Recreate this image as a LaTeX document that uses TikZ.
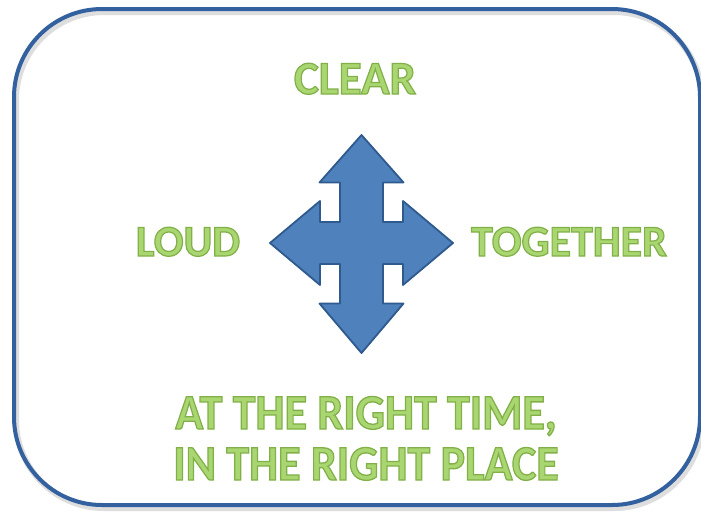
\documentclass[tikz,border=0pt]{standalone}
\usepackage{fontspec}
\usetikzlibrary{calc}
\setmainfont{Carlito}
\definecolor{frameblue}{HTML}{33609E}
\definecolor{arrowfill}{HTML}{4F81BD}
\definecolor{arrowline}{HTML}{2E5A8E}
\definecolor{wordgreen}{HTML}{A9D670}
\newcommand{\glowtext}[1]{\special{pdf:literal direct 2 Tr 1.2 w 0.50 0.69 0.28 RG}#1\special{pdf:literal direct 0 Tr}}
\begin{document}
\begin{tikzpicture}[x=1pt,y=-1pt,
  word/.style={text=wordgreen,font=\fontsize{44}{52}\selectfont\bfseries,inner sep=0pt,anchor=base},
  bigword/.style={text=wordgreen,font=\fontsize{46}{50}\selectfont\bfseries,inner sep=0pt,anchor=base,yscale=1.08}]
\useasboundingbox (0,0) rectangle (701,512);
\fill[white] (0,0) rectangle (701,512);
% shadow
\draw[line width=6pt,black!13,rounded corners=88pt] (16,12) rectangle (702,508);
\draw[line width=4pt,frameblue,rounded corners=88pt] (14,9) rectangle (700,505);
% arrow
\coordinate (c) at (361.5,243);
\filldraw[fill=arrowfill,draw=arrowline,line width=1.8pt,line join=round]
  ($(c)+(0,-108)$) -- ($(c)+(42,-60.5)$) -- ($(c)+(21.5,-60.5)$) -- ($(c)+(21.5,-21)$)
  -- ($(c)+(41.5,-21)$) -- ($(c)+(41.5,-42)$) -- ($(c)+(91.5,0)$) -- ($(c)+(41.5,42)$)
  -- ($(c)+(41.5,21)$) -- ($(c)+(21.5,21)$) -- ($(c)+(21.5,60.5)$) -- ($(c)+(42,60.5)$)
  -- ($(c)+(0,110)$) -- ($(c)+(-42,60.5)$) -- ($(c)+(-21.5,60.5)$) -- ($(c)+(-21.5,21)$)
  -- ($(c)+(-41.5,21)$) -- ($(c)+(-41.5,42)$) -- ($(c)+(-91.5,0)$) -- ($(c)+(-41.5,-42)$)
  -- ($(c)+(-41.5,-21)$) -- ($(c)+(-21.5,-21)$) -- ($(c)+(-21.5,-60.5)$) -- ($(c)+(-42,-60.5)$)
  -- cycle;
% words
\node[word,font=\fontsize{47}{52}\selectfont\bfseries] (clear) at (355,94) {\glowtext{CLEAR}};
\node[word] (loud) at (188,256) {\glowtext{LOUD}};
\node[word] (together) at (569,256) {\glowtext{TOGETHER}};
\node[bigword] (time) at (366,429) {\glowtext{AT THE RIGHT TIME,}};
\node[bigword] (place) at (366,480) {\glowtext{IN THE RIGHT PLACE}};
\end{tikzpicture}
\end{document}
